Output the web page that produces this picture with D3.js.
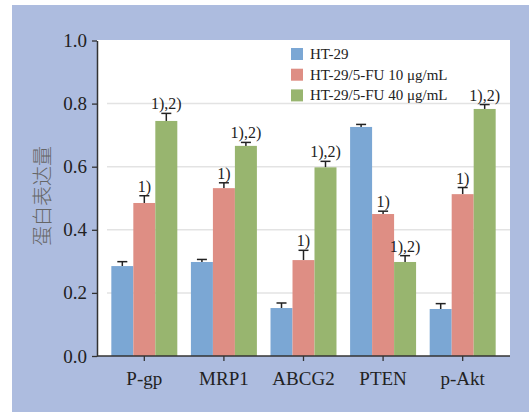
<!DOCTYPE html>
<html>
<head>
<meta charset="utf-8">
<script src="https://cdn.jsdelivr.net/npm/d3@7"></script>
<style>
  body { margin: 0; background: #fff; }
  svg { display: block; }
</style>
</head>
<body>
<div id="chart"></div>
<script>
// categories and series
var proteins = ["P-gp", "MRP1", "ABCG2", "PTEN", "p-Akt"];
var seriesNames = ["HT-29", "HT-29/5-FU 10 \u03bcg/mL", "HT-29/5-FU 40 \u03bcg/mL"];
var ht29 = [0.285, 0.298, 0.152, 0.726, 0.149];
var fu10 = [0.485, 0.532, 0.304, 0.450, 0.513];
var fu40 = [0.745, 0.666, 0.598, 0.298, 0.783];
var ht29Err = [0.014, 0.008, 0.016, 0.008, 0.017];
var fu10Err = [0.023, 0.017, 0.031, 0.009, 0.021];
var fu40Err = [0.024, 0.011, 0.019, 0.020, 0.014];
var fu10Mark = ["1)", "1)", "1)", "1)", "1)"];
var fu40Mark = ["1),2)", "1),2)", "1),2)", "1),2)", "1),2)"];
var yTicks = [0.0, 0.2, 0.4, 0.6, 0.8, 1.0];

var colors = ["#7ba7d4", "#de8e84", "#98b56f"];

var svgWidth = 529;
var svgHeight = 412;

var svg = d3.select("#chart")
    .append("svg")
    .attr("width", svgWidth)
    .attr("height", svgHeight);

// blue panel behind the chart
svg.append("rect")
    .attr("x", 12).attr("y", 5)
    .attr("width", svgWidth - 12).attr("height", svgHeight - 5)
    .attr("fill", "#adbcdf");

var plot = { left: 97, right: 510, top: 40, bottom: 356 };

svg.append("rect")
    .attr("x", plot.left).attr("y", plot.top)
    .attr("width", plot.right - plot.left)
    .attr("height", plot.bottom - plot.top)
    .attr("fill", "#fff");

var yScale = d3.scaleLinear()
    .domain([0, 1])
    .range([plot.bottom, plot.top + 0.5]);

var xScale = d3.scaleBand()
    .domain(proteins)
    .range([plot.left, plot.right])
    .paddingInner(0.171)
    .paddingOuter(0.18);

var xSub = d3.scaleBand()
    .domain([0, 1, 2])
    .range([0, xScale.bandwidth()]);

// gridlines
svg.append("g")
    .selectAll("line")
    .data(yTicks.filter(d => d > 0 && d < 1))
    .enter()
    .append("line")
    .attr("x1", 107).attr("x2", plot.right)
    .attr("y1", d => yScale(d)).attr("y2", d => yScale(d))
    .attr("stroke", "#e3e3e3")
    .attr("stroke-width", 1.5);

var series = [
    { vals: ht29, err: ht29Err, marks: null },
    { vals: fu10, err: fu10Err, marks: fu10Mark },
    { vals: fu40, err: fu40Err, marks: fu40Mark }
];

series.forEach(function (s, si) {
    var g = svg.append("g");
    var rows = proteins.map(function (p, i) {
        return { p: p, v: s.vals[i], e: s.err[i], m: s.marks ? s.marks[i] : null };
    });
    var cx = d => xScale(d.p) + xSub(si) + xSub.bandwidth() / 2;

    // error bars
    g.selectAll("line.err")
        .data(rows).enter().append("line")
        .attr("x1", cx).attr("x2", cx)
        .attr("y1", d => yScale(d.v)).attr("y2", d => yScale(d.v + d.e))
        .attr("stroke", "#222").attr("stroke-width", 1.5);
    g.selectAll("line.cap")
        .data(rows).enter().append("line")
        .attr("x1", d => cx(d) - 5).attr("x2", d => cx(d) + 5)
        .attr("y1", d => yScale(d.v + d.e)).attr("y2", d => yScale(d.v + d.e))
        .attr("stroke", "#222").attr("stroke-width", 1.5);

    g.selectAll("rect")
        .data(rows).enter().append("rect")
        .attr("x", d => xScale(d.p) + xSub(si))
        .attr("width", xSub.bandwidth())
        .attr("y", d => yScale(d.v))
        .attr("height", d => yScale(0) - yScale(d.v))
        .attr("fill", colors[si]);

    if (s.marks) {
        g.selectAll("text")
            .data(rows).enter().append("text")
            .attr("x", cx)
            .attr("y", d => yScale(d.v + d.e) - 4)
            .attr("text-anchor", "middle")
            .attr("font-family", "Liberation Serif, serif")
            .attr("font-size", 16)
            .attr("fill", "#222")
            .text(d => d.m);
    }
});

// axes
var leftAxis = d3.axisLeft(yScale)
    .tickValues(yTicks)
    .tickFormat(d3.format(".1f"))
    .tickSize(5)
    .tickSizeOuter(0);

var yAxis = svg.append("g")
    .attr("transform", `translate(${plot.left}, 0)`)
    .call(leftAxis);

var bottomAxis = d3.axisBottom(xScale)
    .tickSize(5)
    .tickSizeOuter(0);

var xAxis = svg.append("g")
    .attr("transform", `translate(0, ${plot.bottom})`)
    .call(bottomAxis);

yAxis.attr("font-family", "Liberation Serif, serif");
xAxis.attr("font-family", "Liberation Serif, serif");
yAxis.select(".domain").attr("stroke", "#333").attr("stroke-width", 1.5);
xAxis.select(".domain").attr("stroke", "#333").attr("stroke-width", 1.5)
    .attr("d", `M${plot.left},0H${plot.right}`);
svg.selectAll(".tick line").attr("stroke", "#333").attr("stroke-width", 1.3);

yAxis.selectAll(".tick text")
    .attr("font-size", 19)
    .attr("fill", "#222")
    .attr("x", -10);

xAxis.selectAll(".tick text")
    .attr("font-size", 19)
    .attr("fill", "#222")
    .attr("y", 16);

// y axis title
svg.append("text")
    .attr("transform", "translate(50, 196) rotate(-90)")
    .attr("text-anchor", "middle")
    .attr("font-family", "Noto Sans CJK SC")
    .attr("font-weight", 300)
    .attr("font-size", 20)
    .attr("fill", "#666")
    .text("蛋白表达量");

// legend
var legend = svg.append("g")
    .attr("transform", "translate(291, 48)");

seriesNames.forEach(function (name, i) {
    legend.append("rect")
        .attr("x", 0).attr("y", i * 20.7)
        .attr("width", 12).attr("height", 12)
        .attr("fill", colors[i]);
    legend.append("text")
        .attr("x", 19).attr("y", i * 20.7 + 11)
        .attr("font-family", "Liberation Serif, serif")
        .attr("font-size", 15)
        .attr("fill", "#222")
        .text(name);
});
</script>
</body>
</html>
